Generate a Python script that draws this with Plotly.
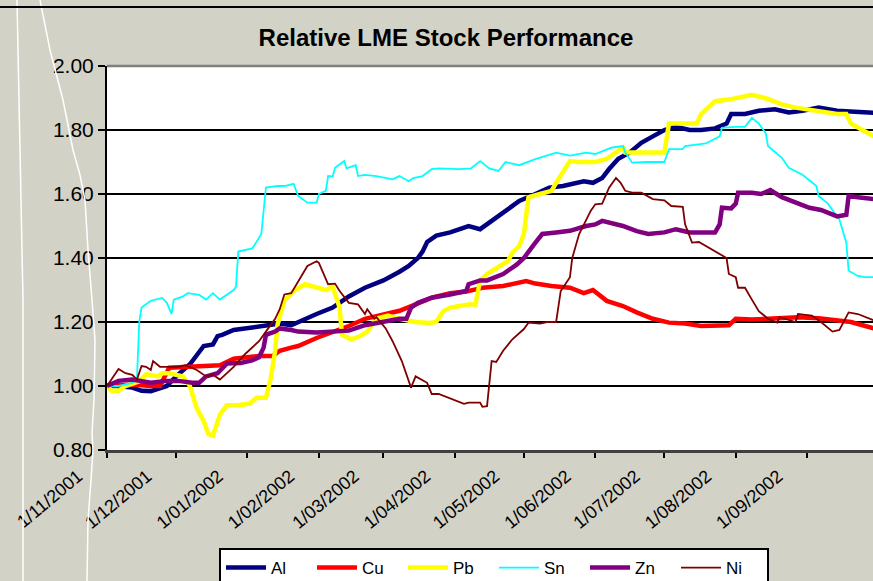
import plotly.graph_objects as go

# ---------------- data ----------------
tick_dates = ["2001-11-01", "2001-12-01", "2002-01-01", "2002-02-01", "2002-03-01", "2002-04-01",
              "2002-05-01", "2002-06-01", "2002-07-01", "2002-08-01", "2002-09-01"]
tick_labels = ["1/11/2001", "1/12/2001", "1/01/2002", "1/02/2002", "1/03/2002", "1/04/2002",
               "1/05/2002", "1/06/2002", "1/07/2002", "1/08/2002", "1/09/2002"]
y_ticks = [0.80, 1.00, 1.20, 1.40, 1.60, 1.80, 2.00]

al_dates = ["2001-11-01", "2001-11-05", "2001-11-12", "2001-11-16", "2001-11-20", "2001-11-23", "2001-11-27",
            "2001-12-01", "2001-12-07", "2001-12-13", "2001-12-17", "2001-12-19", "2001-12-21", "2001-12-26",
            "2001-12-31", "2002-01-02", "2002-01-09", "2002-01-15", "2002-01-20", "2002-01-23", "2002-01-31",
            "2002-02-07", "2002-02-14", "2002-02-21", "2002-03-01", "2002-03-08", "2002-03-12", "2002-03-16",
            "2002-03-18", "2002-03-20", "2002-03-24", "2002-03-30", "2002-04-03", "2002-04-07", "2002-04-12",
            "2002-04-16", "2002-04-20", "2002-04-22", "2002-04-29", "2002-05-06", "2002-05-12", "2002-05-18",
            "2002-05-27", "2002-05-31", "2002-06-04", "2002-06-07", "2002-06-11", "2002-06-16", "2002-06-21",
            "2002-06-26", "2002-07-01", "2002-07-06", "2002-07-12", "2002-07-17", "2002-07-23", "2002-07-28",
            "2002-07-30", "2002-08-05", "2002-08-11", "2002-08-18", "2002-08-24", "2002-08-30", "2002-09-06",
            "2002-09-14", "2002-09-20", "2002-09-30"]
al_vals = [1.00, 1.00, 0.995, 0.985, 0.984, 0.99, 1.00,
           1.03, 1.068, 1.125, 1.13, 1.156, 1.16, 1.175,
           1.18, 1.183, 1.188, 1.195, 1.19, 1.20, 1.225,
           1.245, 1.28, 1.307, 1.33, 1.357, 1.375, 1.40,
           1.42, 1.45, 1.47, 1.48, 1.49, 1.50, 1.49,
           1.51, 1.53, 1.54, 1.578, 1.60, 1.62, 1.625,
           1.64, 1.635, 1.65, 1.678, 1.71, 1.73, 1.76,
           1.78, 1.80, 1.81, 1.80, 1.80, 1.805, 1.82,
           1.85, 1.85, 1.86, 1.865, 1.855, 1.86, 1.87,
           1.86, 1.857, 1.854]

cu_dates = ["2001-11-01", "2001-11-12", "2001-11-20", "2001-11-24", "2001-11-28", "2001-12-06", "2001-12-11",
            "2001-12-20", "2001-12-26", "2001-12-31", "2002-01-06", "2002-01-12", "2002-01-15", "2002-01-20",
            "2002-01-23", "2002-01-31", "2002-02-07", "2002-02-14", "2002-02-21", "2002-03-01", "2002-03-08",
            "2002-03-15", "2002-03-22", "2002-03-30", "2002-04-06", "2002-04-13", "2002-04-20", "2002-04-22",
            "2002-05-02", "2002-05-06", "2002-05-13", "2002-05-21", "2002-05-27", "2002-05-31", "2002-06-06",
            "2002-06-13", "2002-06-19", "2002-06-26", "2002-07-03", "2002-07-10", "2002-07-17", "2002-07-25",
            "2002-07-29", "2002-08-01", "2002-08-08", "2002-08-15", "2002-08-22", "2002-08-28", "2002-09-06",
            "2002-09-14", "2002-09-20", "2002-09-30"]
cu_vals = [1.00, 1.005, 1.00, 1.00, 1.057, 1.06, 1.062,
           1.065, 1.085, 1.09, 1.094, 1.094, 1.11, 1.12,
           1.125, 1.15, 1.167, 1.1875, 1.21, 1.225, 1.235,
           1.255, 1.276, 1.29, 1.295, 1.307, 1.31, 1.3125,
           1.328, 1.32, 1.3125, 1.307, 1.29, 1.30, 1.266,
           1.25, 1.23, 1.21, 1.198, 1.195, 1.1875, 1.1875,
           1.19, 1.21, 1.208, 1.21, 1.212, 1.215, 1.212,
           1.205, 1.20, 1.18]

pb_dates = ["2001-11-01", "2001-11-03", "2001-11-06", "2001-11-09", "2001-11-15", "2001-11-18", "2001-11-23",
            "2001-11-25", "2001-11-28", "2001-12-04", "2001-12-07", "2001-12-10", "2001-12-13", "2001-12-15",
            "2001-12-17", "2001-12-20", "2001-12-23", "2001-12-28", "2002-01-02", "2002-01-05", "2002-01-09",
            "2002-01-11", "2002-01-13", "2002-01-14", "2002-01-17", "2002-01-21", "2002-01-26", "2002-01-31",
            "2002-02-04", "2002-02-07", "2002-02-10", "2002-02-11", "2002-02-15", "2002-02-19", "2002-02-22",
            "2002-02-26", "2002-03-03", "2002-03-08", "2002-03-15", "2002-03-21", "2002-03-24", "2002-03-27",
            "2002-03-30", "2002-04-03", "2002-04-07", "2002-04-10", "2002-04-12", "2002-04-15", "2002-04-22",
            "2002-04-24", "2002-04-26", "2002-04-29", "2002-05-01", "2002-05-02", "2002-05-03", "2002-05-08",
            "2002-05-13", "2002-05-15", "2002-05-18", "2002-05-21", "2002-05-25", "2002-06-01", "2002-06-06",
            "2002-06-10", "2002-06-13", "2002-06-14", "2002-06-19", "2002-06-27", "2002-07-01", "2002-07-03",
            "2002-07-10", "2002-07-15", "2002-07-17", "2002-07-20", "2002-07-23", "2002-07-29", "2002-08-04",
            "2002-08-08", "2002-08-15", "2002-08-21", "2002-08-27", "2002-09-05", "2002-09-14", "2002-09-18",
            "2002-09-20", "2002-09-25", "2002-09-30"]
pb_vals = [1.00, 0.985, 0.985, 1.00, 1.015, 1.037, 1.03,
           1.04, 1.04, 1.03, 1.00, 0.93, 0.89, 0.85,
           0.845, 0.91, 0.94, 0.94, 0.945, 0.963, 0.963,
           1.02, 1.11, 1.19, 1.266, 1.297, 1.318, 1.307,
           1.30, 1.31, 1.245, 1.16, 1.146, 1.156, 1.17,
           1.21, 1.22, 1.21, 1.20, 1.197, 1.20, 1.234,
           1.245, 1.25, 1.255, 1.255, 1.33, 1.35, 1.38,
           1.39, 1.416, 1.4375, 1.475, 1.547, 1.59, 1.60,
           1.61, 1.635, 1.672, 1.703, 1.70, 1.70, 1.71,
           1.73, 1.745, 1.73, 1.73, 1.73, 1.73, 1.82,
           1.82, 1.82, 1.85, 1.87, 1.89, 1.895, 1.906,
           1.91, 1.897, 1.88, 1.87, 1.86, 1.85, 1.85,
           1.82, 1.80, 1.78]

sn_dates = ["2001-11-01", "2001-11-06", "2001-11-12", "2001-11-14", "2001-11-15", "2001-11-16", "2001-11-20",
            "2001-11-25", "2001-11-27", "2001-11-29", "2001-11-30", "2001-12-04", "2001-12-06", "2001-12-11",
            "2001-12-14", "2001-12-17", "2001-12-20", "2001-12-26", "2001-12-27", "2001-12-28", "2002-01-03",
            "2002-01-04", "2002-01-07", "2002-01-09", "2002-01-14", "2002-01-17", "2002-01-21", "2002-01-23",
            "2002-01-27", "2002-01-31", "2002-02-01", "2002-02-04", "2002-02-05", "2002-02-07", "2002-02-08",
            "2002-02-12", "2002-02-13", "2002-02-17", "2002-02-18", "2002-02-21", "2002-02-26", "2002-03-05",
            "2002-03-08", "2002-03-12", "2002-03-14", "2002-03-18", "2002-03-22", "2002-03-25", "2002-04-03",
            "2002-04-08", "2002-04-12", "2002-04-16", "2002-04-20", "2002-04-23", "2002-04-29", "2002-05-06",
            "2002-05-15", "2002-05-21", "2002-05-28", "2002-06-01", "2002-06-08", "2002-06-13", "2002-06-14",
            "2002-06-17", "2002-06-23", "2002-07-01", "2002-07-03", "2002-07-09", "2002-07-10", "2002-07-19",
            "2002-07-25", "2002-07-26", "2002-08-01", "2002-08-05", "2002-08-08", "2002-08-11", "2002-08-14",
            "2002-08-15", "2002-08-21", "2002-08-24", "2002-08-30", "2002-09-05", "2002-09-06", "2002-09-10",
            "2002-09-15", "2002-09-18", "2002-09-19", "2002-09-23", "2002-09-26", "2002-09-30"]
sn_vals = [1.00, 1.00, 1.01, 1.02, 1.20, 1.245, 1.266,
           1.275, 1.26, 1.225, 1.27, 1.28, 1.29, 1.285,
           1.27, 1.29, 1.27, 1.30, 1.31, 1.42, 1.43,
           1.44, 1.475, 1.62, 1.625, 1.625, 1.632, 1.594,
           1.573, 1.573, 1.60, 1.61, 1.656, 1.655, 1.682,
           1.703, 1.68, 1.69, 1.656, 1.66, 1.656, 1.646,
           1.656, 1.64, 1.65, 1.656, 1.678, 1.68, 1.678,
           1.68, 1.703, 1.68, 1.672, 1.70, 1.69, 1.709,
           1.729, 1.72, 1.729, 1.725, 1.745, 1.75, 1.73,
           1.698, 1.70, 1.70, 1.74, 1.74, 1.75, 1.758,
           1.78, 1.807, 1.81, 1.81, 1.838, 1.82, 1.79,
           1.75, 1.713, 1.682, 1.66, 1.625, 1.594, 1.57,
           1.52, 1.448, 1.36, 1.344, 1.34, 1.34]

zn_dates = ["2001-11-01", "2001-11-06", "2001-11-12", "2001-11-20", "2001-11-27", "2001-12-02", "2001-12-08",
            "2001-12-11", "2001-12-14", "2001-12-19", "2001-12-23", "2001-12-29", "2002-01-03", "2002-01-06",
            "2002-01-08", "2002-01-09", "2002-01-13", "2002-01-15", "2002-01-20", "2002-01-23", "2002-01-31",
            "2002-02-07", "2002-02-14", "2002-02-21", "2002-03-01", "2002-03-08", "2002-03-11", "2002-03-13",
            "2002-03-16", "2002-03-22", "2002-03-30", "2002-04-06", "2002-04-07", "2002-04-12", "2002-04-15",
            "2002-04-20", "2002-04-22", "2002-04-28", "2002-05-01", "2002-05-06", "2002-05-09", "2002-05-15",
            "2002-05-21", "2002-05-28", "2002-06-01", "2002-06-04", "2002-06-07", "2002-06-13", "2002-06-19",
            "2002-06-24", "2002-07-01", "2002-07-06", "2002-07-12", "2002-07-17", "2002-07-23", "2002-07-25",
            "2002-07-26", "2002-07-30", "2002-08-01", "2002-08-02", "2002-08-08", "2002-08-12", "2002-08-16",
            "2002-08-21", "2002-08-27", "2002-09-02", "2002-09-07", "2002-09-14", "2002-09-18", "2002-09-19",
            "2002-09-23", "2002-09-30"]
zn_vals = [1.00, 1.016, 1.02, 1.01, 1.016, 1.016, 1.01,
           1.01, 1.03, 1.04, 1.07, 1.072, 1.08, 1.09,
           1.12, 1.16, 1.17, 1.18, 1.175, 1.17, 1.167,
           1.17, 1.173, 1.19, 1.20, 1.21, 1.21, 1.245,
           1.26, 1.276, 1.286, 1.297, 1.318, 1.33, 1.33,
           1.344, 1.35, 1.38, 1.40, 1.448, 1.475, 1.48,
           1.485, 1.50, 1.505, 1.516, 1.51, 1.50, 1.484,
           1.475, 1.48, 1.49, 1.48, 1.48, 1.48, 1.505,
           1.557, 1.555, 1.57, 1.604, 1.604, 1.60, 1.6125,
           1.59, 1.573, 1.557, 1.55, 1.53, 1.535, 1.594,
           1.59, 1.584]

ni_dates = ["2001-11-01", "2001-11-06", "2001-11-09", "2001-11-12", "2001-11-14", "2001-11-16", "2001-11-18",
            "2001-11-20", "2001-11-21", "2001-11-24", "2001-11-27", "2001-12-02", "2001-12-05", "2001-12-10",
            "2001-12-14", "2001-12-17", "2001-12-20", "2001-12-26", "2001-12-31", "2002-01-06", "2002-01-10",
            "2002-01-13", "2002-01-15", "2002-01-17", "2002-01-20", "2002-01-23", "2002-01-24", "2002-01-27",
            "2002-01-31", "2002-02-01", "2002-02-05", "2002-02-08", "2002-02-10", "2002-02-14", "2002-02-18",
            "2002-02-21", "2002-02-22", "2002-02-25", "2002-02-26", "2002-03-02", "2002-03-05", "2002-03-09",
            "2002-03-13", "2002-03-15", "2002-03-20", "2002-03-22", "2002-03-25", "2002-03-30", "2002-04-05",
            "2002-04-07", "2002-04-12", "2002-04-13", "2002-04-15", "2002-04-17", "2002-04-19", "2002-04-22",
            "2002-04-26", "2002-05-01", "2002-05-03", "2002-05-08", "2002-05-11", "2002-05-15", "2002-05-17",
            "2002-05-21", "2002-05-22", "2002-05-25", "2002-05-30", "2002-06-01", "2002-06-04", "2002-06-07",
            "2002-06-10", "2002-06-12", "2002-06-14", "2002-06-17", "2002-06-21", "2002-06-26", "2002-07-01",
            "2002-07-04", "2002-07-09", "2002-07-10", "2002-07-13", "2002-07-16", "2002-07-19", "2002-07-23",
            "2002-07-26", "2002-07-28", "2002-07-29", "2002-08-01", "2002-08-02", "2002-08-05", "2002-08-08",
            "2002-08-11", "2002-08-15", "2002-08-19", "2002-08-20", "2002-08-27", "2002-08-28", "2002-09-03",
            "2002-09-07", "2002-09-12", "2002-09-15", "2002-09-18", "2002-09-19", "2002-09-23", "2002-09-30"]
ni_vals = [1.00, 1.053, 1.04, 1.035, 1.02, 1.0625, 1.06,
           1.05, 1.078, 1.06, 1.06, 1.06, 1.065, 1.05,
           1.03, 1.035, 1.02, 1.06, 1.10, 1.14, 1.18,
           1.21, 1.24, 1.286, 1.29, 1.328, 1.34, 1.375,
           1.39, 1.385, 1.318, 1.32, 1.297, 1.26, 1.255,
           1.225, 1.24, 1.21, 1.215, 1.18, 1.14, 1.078,
           0.995, 1.03, 1.01, 0.975, 0.975, 0.96, 0.944,
           0.948, 0.948, 0.935, 0.937, 1.078, 1.075, 1.11,
           1.146, 1.178, 1.198, 1.195, 1.20, 1.20, 1.297,
           1.34, 1.40, 1.475, 1.547, 1.568, 1.57, 1.62,
           1.65, 1.635, 1.61, 1.604, 1.604, 1.584, 1.58,
           1.5625, 1.56, 1.505, 1.448, 1.45, 1.4375, 1.42,
           1.41, 1.40, 1.35, 1.34, 1.307, 1.307, 1.27,
           1.234, 1.21, 1.198, 1.215, 1.20, 1.225, 1.22,
           1.20, 1.17, 1.175, 1.215, 1.23, 1.225, 1.205]

series = [
    ("Al", al_dates, al_vals, "#000080", 4.5),
    ("Cu", cu_dates, cu_vals, "#FF0000", 4.5),
    ("Pb", pb_dates, pb_vals, "#FFFF00", 4.5),
    ("Sn", sn_dates, sn_vals, "#00FFFF", 1.8),
    ("Zn", zn_dates, zn_vals, "#800080", 4.5),
    ("Ni", ni_dates, ni_vals, "#800000", 1.8),
]

# ---------------- figure ----------------
W, H = 873, 581
ML, MR, MT, MB = 107, 0, 66, 131
PW, PH = W - ML - MR, H - MT - MB
BG = "#D3D2C7"
FONT = "Liberation Sans, Arial, sans-serif"

fig = go.Figure()
for name, xs, ys, color, width in series:
    fig.add_trace(go.Scatter(x=xs, y=ys, mode="lines", name=name,
                             line=dict(color=color, width=width)))


def px_x(p):
    return (p - ML) / PW


def px_y(p):
    return (H - MB - p) / PH


def path_from(points):
    return "M " + " L ".join(f"{px_x(a):.5f},{px_y(b):.5f}" for a, b in points)


# decorative white strokes on the left (scan marks in the reference)
stroke_a = [(17, 0), (19, 100), (21, 200), (23, 300), (23, 420), (23, 581)]
stroke_b = [(40, 0), (50, 50), (63, 100), (73, 150), (80, 175), (85, 200), (88, 250), (92, 300),
            (95, 340), (94, 400), (92, 433), (93, 450), (91, 480), (88, 520), (87, 581)]

shapes = [
    dict(type="path", xref="paper", yref="paper", path=path_from(stroke_a),
         line=dict(color="white", width=1.5), layer="above"),
    dict(type="path", xref="paper", yref="paper", path=path_from(stroke_b),
         line=dict(color="white", width=1.5), layer="above"),
    dict(type="line", xref="paper", yref="paper", x0=px_x(0), x1=px_x(W), y0=px_y(7), y1=px_y(7),
         line=dict(color="black", width=2)),
    dict(type="line", xref="paper", yref="paper", x0=0, x1=1, y0=1, y1=1,
         line=dict(color="#808080", width=2.5), layer="above"),
]

fig.update_layout(
    width=W, height=H,
    margin=dict(l=ML, r=MR, t=MT, b=MB, pad=0, autoexpand=False),
    paper_bgcolor=BG, plot_bgcolor="white",
    font=dict(family=FONT, color="black"),
    title=dict(text="<b>Relative LME Stock Performance</b>", font=dict(size=24, family=FONT, color="black"),
               x=446 / W, xanchor="center", xref="container",
               y=1 - 38 / H, yanchor="middle", yref="container", automargin=False),
    showlegend=True,
    legend=dict(orientation="h", xref="container", yref="container",
                x=219 / W, y=1 - 548 / H, xanchor="left", yanchor="top",
                bgcolor="white", bordercolor="black", borderwidth=2,
                font=dict(size=17, family=FONT, color="black"),
                entrywidth=36, entrywidthmode="pixels", itemwidth=40),
    shapes=shapes,
)

fig.update_xaxes(
    type="date", range=["2001-11-01", "2002-09-29 14:00"],
    tickmode="array", tickvals=tick_dates, ticktext=tick_labels,
    tickangle=-40, tickfont=dict(size=18, family=FONT, color="black"),
    ticks="outside", ticklen=5, tickwidth=1.5, tickcolor="black",
    showline=True, linecolor="#404040", linewidth=2.5, automargin=False,
    showgrid=False, zeroline=False, ticklabelshift=-29, ticklabelstandoff=1,
)
fig.update_yaxes(
    range=[0.8, 2.0], tickmode="array", tickvals=y_ticks, tickformat=".2f",
    tickfont=dict(size=21, family=FONT, color="black"),
    ticks="outside", ticklen=7, tickwidth=1.5, tickcolor="black",
    showline=True, linecolor="black", linewidth=2, automargin=False,
    showgrid=True, gridcolor="black", gridwidth=1.5, zeroline=False,
)

fig.write_html("out.html", config={"displayModeBar": False},
               post_script="document.body.style.margin='0';document.body.style.overflow='hidden';")
